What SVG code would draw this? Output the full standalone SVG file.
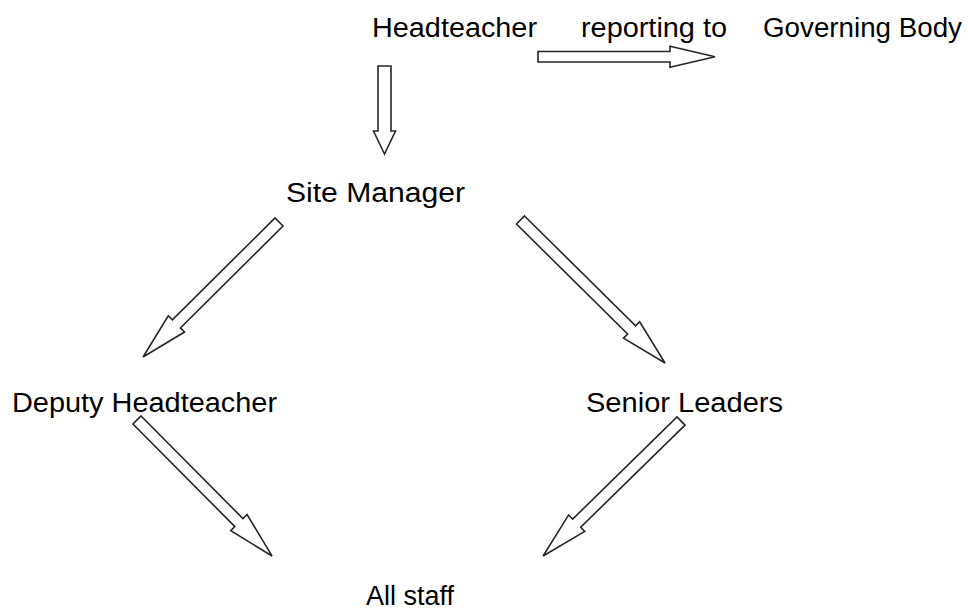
<svg xmlns="http://www.w3.org/2000/svg" width="968" height="612" viewBox="0 0 968 612">
<style>
text{font-family:"Liberation Sans",Arial,sans-serif;font-size:27px;fill:#000}
.arr{fill:#fff;stroke:#262626;stroke-width:1.6;stroke-linejoin:miter}
</style>
<rect width="968" height="612" fill="#fff"/>
<g id="connectors">
<polygon class="arr" transform="translate(538,56.75)" points="0,-5.25 132,-5.25 132,-10.5 177,0 132,10.5 132,5.25 0,5.25"/>
<polygon class="arr" transform="translate(384.5,66) rotate(90)" points="0,-6.5 65,-6.5 65,-11 88,0 65,11 65,6.5 0,6.5"/>
<polygon class="arr" transform="translate(279,222) rotate(135.2)" points="0,-5.7 144.6,-5.7 144.6,-11.5 191.6,0 144.6,11.5 144.6,5.7 0,5.7"/>
<polygon class="arr" transform="translate(520.5,220) rotate(44.7)" points="0,-5.7 156.3,-5.7 156.3,-11.5 203.3,0 156.3,11.5 156.3,5.7 0,5.7"/>
<polygon class="arr" transform="translate(137,420) rotate(45.2)" points="0,-5.7 144.6,-5.7 144.6,-11.5 191.6,0 144.6,11.5 144.6,5.7 0,5.7"/>
<polygon class="arr" transform="translate(681,421) rotate(135.6)" points="0,-5.7 146,-5.7 146,-11.5 193,0 146,11.5 146,5.7 0,5.7"/>
</g>
<g id="headteacher"><text x="372" y="37" textLength="165" lengthAdjust="spacingAndGlyphs">Headteacher</text></g>
<g id="reporting"><text x="581" y="37" textLength="146" lengthAdjust="spacingAndGlyphs">reporting to</text></g>
<g id="governing-body"><text x="763" y="37" textLength="199" lengthAdjust="spacingAndGlyphs">Governing Body</text></g>
<g id="site-manager"><text x="286" y="202" textLength="179" lengthAdjust="spacingAndGlyphs">Site Manager</text></g>
<g id="deputy-headteacher"><text x="12" y="412" textLength="265" lengthAdjust="spacingAndGlyphs">Deputy Headteacher</text></g>
<g id="senior-leaders"><text x="586" y="412" textLength="197" lengthAdjust="spacingAndGlyphs">Senior Leaders</text></g>
<g id="all-staff"><text x="366" y="605">All staff</text></g>
</svg>
